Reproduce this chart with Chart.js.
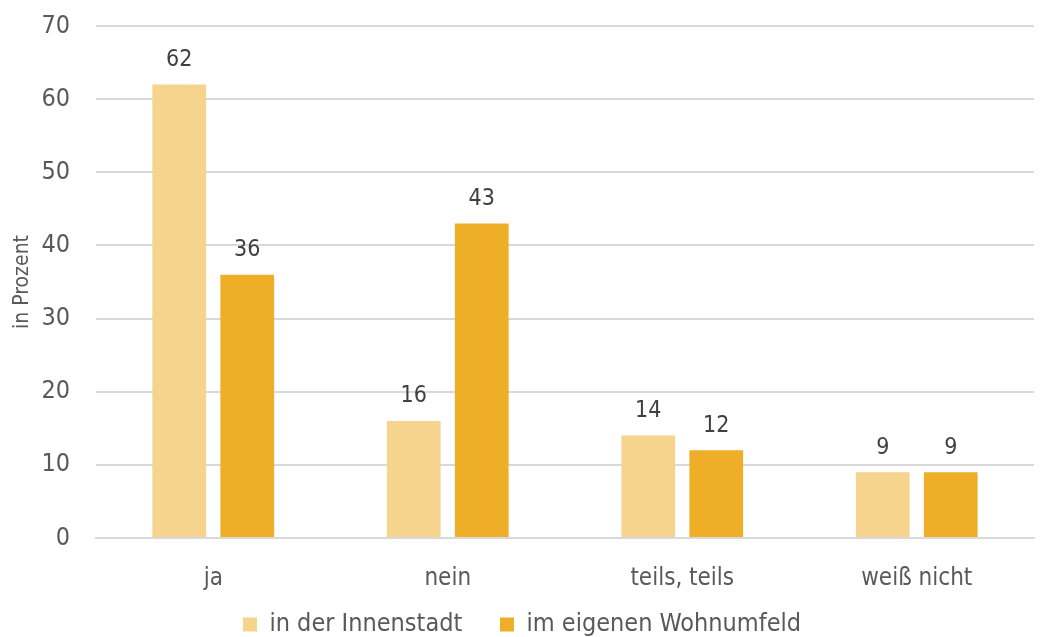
<!DOCTYPE html>
<html lang="de">
<head>
<meta charset="utf-8">
<script src="https://cdn.jsdelivr.net/npm/chart.js@4.4.1/dist/chart.umd.min.js"></script>
<style>
  html, body { margin: 0; padding: 0; background: #fff; }
  #wrap { width: 1046px; height: 637px; position: relative; }
</style>
</head>
<body>
<div id="wrap"><canvas id="umfrageChart"></canvas></div>
<script>
const categories = ['ja', 'nein', 'teils, teils', 'weiß nicht'];
const innenstadt = [62, 16, 14, 9];
const wohnumfeld = [36, 43, 12, 9];
const seriesNames = ['in der Innenstadt', 'im eigenen Wohnumfeld'];
const yTicks = [0, 10, 20, 30, 40, 50, 60, 70];

const FONT = "'Liberation Sans Narrow', 'DejaVu Sans Condensed', sans-serif";

// Werte über die Balken schreiben
const valueLabels = {
  id: 'valueLabels',
  afterDatasetsDraw(chart) {
    const ctx = chart.ctx;
    ctx.save();
    ctx.font = '23px ' + FONT;
    ctx.fillStyle = '#404040';
    ctx.textAlign = 'center';
    ctx.textBaseline = 'bottom';
    chart.data.datasets.forEach((ds, i) => {
      chart.getDatasetMeta(i).data.forEach((bar, j) => {
        ctx.fillText(ds.data[j], bar.x, bar.y - 13);
      });
    });
    ctx.restore();
  }
};

new Chart(document.getElementById('umfrageChart'), {
  type: 'bar',
  data: {
    labels: categories,
    datasets: [
      { label: seriesNames[0], data: innenstadt, backgroundColor: '#F6D48E' },
      { label: seriesNames[1], data: wohnumfeld, backgroundColor: '#EEAE27' }
    ]
  },
  options: {
    responsive: true,
    maintainAspectRatio: false,
    animation: false,
    categoryPercentage: 0.58,
    barPercentage: 0.79,
    layout: { padding: { top: 26, right: 12, bottom: 0, left: 10 } },
    scales: {
      x: {
        grid: { display: false },
        border: { color: '#d9d9d9', width: 2 },
        ticks: { color: '#595959', font: { family: FONT, size: 24, lineHeight: 1 }, padding: 21 },
        afterFit: axis => { axis.height = 52; }
      },
      y: {
        min: 0,
        max: 70,
        afterBuildTicks: axis => { axis.ticks = yTicks.map(v => ({ value: v })); },
        afterFit: axis => { axis.width = 86; },
        // unsichtbare Tick-Striche schaffen den Abstand zwischen Zahl und Gitter
        grid: { color: '#d9d9d9', lineWidth: 2, drawTicks: true, tickLength: 24, tickColor: 'rgba(0,0,0,0)' },
        border: { display: false },
        ticks: { color: '#595959', font: { family: FONT, size: 25 }, padding: 2 },
        title: {
          display: true,
          text: 'in Prozent',
          color: '#595959',
          font: { family: FONT, size: 21 },
          padding: { top: 0, bottom: 0 }
        }
      }
    },
    plugins: {
      legend: {
        position: 'bottom',
        maxHeight: 47,
        labels: {
          color: '#595959',
          font: { family: FONT, size: 25 },
          boxWidth: 14,
          boxHeight: 14,
          padding: 22,
          // etwas mehr Abstand zwischen den beiden Einträgen
          generateLabels: chart => {
            const items = Chart.defaults.plugins.legend.labels.generateLabels(chart);
            items[0].text += '\u2002\u2009';
            return items;
          }
        }
      },
      tooltip: { enabled: false }
    }
  },
  plugins: [valueLabels]
});
</script>
</body>
</html>
